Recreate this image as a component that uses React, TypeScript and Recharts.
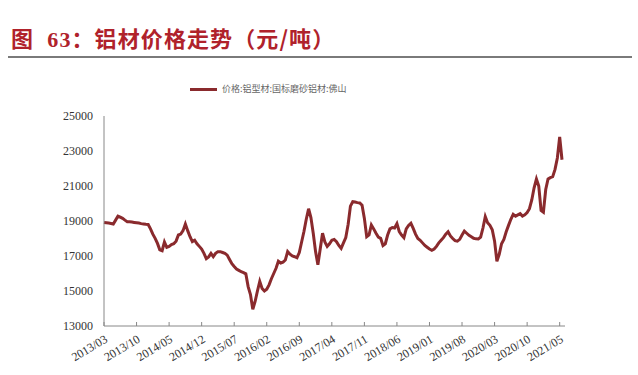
import React from 'react';
import { LineChart, Line, XAxis, YAxis } from 'recharts';

// Half-month periods from 2013/03 to 2021/05
const startYear = 2013;
const startMonth = 3;
const monthCount = 99;

const tickLabels = [
  '2013/03', '2013/10', '2014/05', '2014/12', '2015/07', '2016/02', '2016/09', '2017/04',
  '2017/11', '2018/06', '2019/01', '2019/08', '2020/03', '2020/10', '2021/05',
];

const yTicks = [13000, 15000, 17000, 19000, 21000, 23000, 25000];

// 价格:铝型材:国标磨砂铝材:佛山 (元/吨), two readings per month
const prices = [
  18920, 18900, 18880, 18860, 18830, 19050, 19280, 19220, 19150, 19050, 18960, 18960, 18940, 18920,
  18900, 18880, 18850, 18830, 18810, 18800, 18550, 18250, 18010, 17720, 17350, 17300, 17800, 17500,
  17550, 17650, 17700, 17850, 18200, 18250, 18450, 18830, 18450, 18100, 17820, 17900, 17700, 17550,
  17400, 17150, 16850, 16950, 17150, 16960, 17150, 17250, 17250, 17200, 17150, 17050, 16800, 16560,
  16400, 16260, 16180, 16100, 16050, 15980, 15250, 14800, 13950, 14400, 15000, 15550, 15150, 15000,
  15100, 15350, 15700, 16000, 16300, 16700, 16600, 16650, 16770, 17250, 17100, 17000, 16960, 16900,
  17200, 17800, 18400, 19100, 19700, 19200, 18300, 17250, 16500, 17400, 18300, 17800, 17550, 17700,
  17900, 17950, 17820, 17600, 17440, 17750, 18050, 18800, 19850, 20100, 20080, 20050, 20030, 19900,
  19150, 18100, 18200, 18770, 18550, 18300, 18080, 18010, 17600, 17700, 18200, 18550, 18630, 18600,
  18850, 18400, 18200, 18050, 18550, 18750, 18870, 18580, 18250, 18000, 17900, 17750, 17600, 17500,
  17400, 17330, 17400, 17550, 17750, 17900, 18050, 18250, 18390, 18150, 18000, 17880, 17850, 17950,
  18200, 18420, 18300, 18180, 18100, 18010, 17980, 17970, 18080, 18600, 19250, 18900, 18750, 18500,
  17850, 16700, 17100, 17700, 17950, 18380, 18750, 19100, 19380, 19270, 19350, 19420, 19280, 19350,
  19480, 19700, 20200, 20900, 21400, 21000, 19600, 19500, 20800, 21400, 21480, 21530, 21950, 22600,
  23800, 22500,
];

const periods: string[] = [];
for (let m = 0; m < monthCount; m++) {
  const y = startYear + Math.floor((startMonth - 1 + m) / 12);
  const mo = ((startMonth - 1 + m) % 12) + 1;
  const mm = mo < 10 ? '0' + mo : '' + mo;
  periods.push(`${y}/${mm}/01`);
  periods.push(`${y}/${mm}/16`);
}

const data = periods.map((p, i) => ({ date: p, price: prices[i] }));

const LINE_COLOR = '#8a2a2d';
const TITLE_COLOR = '#b0222b';

export default function App() {
  return (
    <div style={{ position: 'absolute', left: 0, top: 0, width: 638, height: 375, background: '#fff' }}>
      <div
        style={{
          position: 'absolute',
          left: 11,
          top: 24,
          fontFamily: '"Liberation Serif", "Noto Sans CJK SC", serif',
          fontWeight: 'bold',
          fontSize: 22,
          lineHeight: '26px',
          color: TITLE_COLOR,
          whiteSpace: 'pre',
          letterSpacing: 1.1,
        }}
      >
        <span style={{ fontFamily: '"Noto Sans CJK SC"' }}>图</span>
        {'  63'}
        <span style={{ fontFamily: '"Noto Sans CJK SC"' }}>：铝材价格走势（元/吨）</span>
      </div>
      <div
        style={{
          position: 'absolute',
          left: 8,
          top: 56,
          width: 624,
          height: 2,
          background: '#7a7a7a',
        }}
      />
      <div
        style={{
          position: 'absolute',
          left: 190,
          top: 83,
          display: 'flex',
          alignItems: 'center',
          whiteSpace: 'nowrap',
        }}
      >
        <div style={{ width: 27, height: 3, background: LINE_COLOR, marginRight: 5 }} />
        <span style={{ fontFamily: '"Noto Sans CJK SC"', fontSize: 9, color: '#666', lineHeight: '12px' }}>
          价格:铝型材:国标磨砂铝材:佛山
        </span>
      </div>
      <LineChart
        width={638}
        height={375}
        data={data}
        margin={{ top: 116, right: 73, bottom: 0, left: 44 }}
        style={{ position: 'absolute', left: 0, top: 0 }}
      >
        <XAxis
          dataKey="date"
          interval={13}
          height={49}
          padding={{ left: 0, right: 3 }}
          axisLine={{ stroke: '#888', strokeWidth: 1 }}
          tickLine={{ stroke: '#888', strokeWidth: 1 }}
          tickSize={-4}
          tickMargin={12}
          angle={-31}
          textAnchor="end"
          tick={{ fontFamily: '"Liberation Serif", serif', fontSize: 12, fill: '#333' }}
          tickFormatter={(v: string) => v.slice(0, 7)}
        />
        <YAxis
          type="number"
          domain={[13000, 25000]}
          ticks={yTicks}
          width={60}
          axisLine={{ stroke: '#888', strokeWidth: 1 }}
          tickLine={false}
          tickSize={0}
          tickMargin={11}
          tick={{ fontFamily: '"Liberation Serif", serif', fontSize: 12, fill: '#333' }}
          allowDataOverflow
        />
        <Line
          type="linear"
          dataKey="price"
          stroke={LINE_COLOR}
          strokeWidth={3}
          dot={false}
          activeDot={false}
          isAnimationActive={false}
        />
      </LineChart>
    </div>
  );
}
